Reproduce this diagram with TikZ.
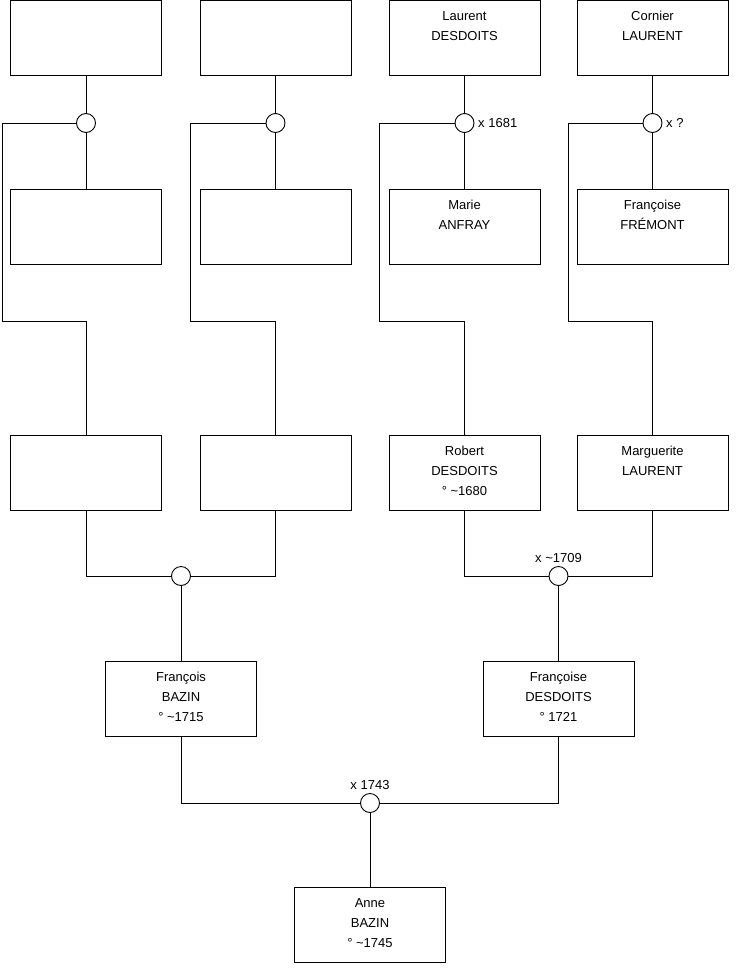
\documentclass[tikz,border=0pt]{standalone}
\usepackage{fontspec}
\setmainfont{Liberation Sans}
\newcommand{\who}[1]{\parbox[c][63pt][t]{150pt}{\centering\fontsize{13}{20}\selectfont\strut #1}}

\begin{document}
\begin{tikzpicture}[x=1pt,y=-1pt,line width=0.9pt,
  person/.style={draw,inner sep=0pt,minimum width=151pt,minimum height=75pt},
  union/.style={draw,circle,inner sep=0pt,minimum size=19pt},
  every label/.style={font=\fontsize{13}{16}\selectfont}]
\useasboundingbox (0,0) rectangle (740,975);
\node[person] (a1) at (86,37.5) {};
\node[person] (a2) at (275.5,37.5) {};
\node[person] (a3) at (464.5,37.5) {\who{Laurent\\DESDOITS}};
\node[person] (a4) at (652.5,37.5) {\who{Cornier\\LAURENT}};
\node[union] (c1) at (86,123) {};
\node[union] (c2) at (275.5,123) {};
\node[union,label={right:x 1681}] (c3) at (464.5,123) {};
\node[union,label={right:x ?}] (c4) at (652.5,123) {};
\node[person] (b1) at (86,227) {};
\node[person] (b2) at (275.5,227) {};
\node[person] (b3) at (464.5,227) {\who{Marie\\ANFRAY}};
\node[person] (b4) at (652.5,227) {\who{Françoise\\FRÉMONT}};
\node[person] (d1) at (86,472.5) {};
\node[person] (d2) at (275.5,472.5) {};
\node[person] (d3) at (464.5,472.5) {\who{Robert\\DESDOITS\\° \textasciitilde1680}};
\node[person] (d4) at (652.5,472.5) {\who{Marguerite\\LAURENT}};
\node[union] (e1) at (181,576) {};
\node[union,label={above:x \textasciitilde1709}] (e2) at (558.5,576) {};
\node[person] (f1) at (181,699) {\who{François\\BAZIN\\° \textasciitilde1715}};
\node[person] (f2) at (558.5,699) {\who{Françoise\\DESDOITS\\° 1721}};
\node[union,label={above:x 1743}] (g) at (370,803) {};
\node[person] (h) at (370,925) {\who{Anne\\BAZIN\\° \textasciitilde1745}};
\foreach \i/\r in {1/2,2/190,3/379,4/568} {
  \draw (a\i) -- (c\i) -- (b\i);
  \draw (c\i) -| (\r,321) -| (d\i);
}
\draw (d1) |- (e1) -| (d2);
\draw (d3) |- (e2) -| (d4);
\draw (e1) -- (f1);
\draw (e2) -- (f2);
\draw (f1) |- (g) -| (f2);
\draw (g) -- (h);
\end{tikzpicture}
\end{document}
